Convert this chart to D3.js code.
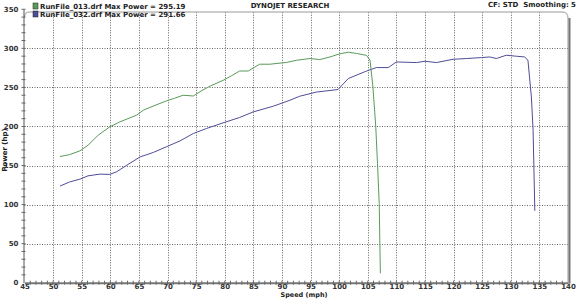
<!DOCTYPE html>
<html><head><meta charset="utf-8">
<script src="https://cdn.jsdelivr.net/npm/d3@7"></script>
<style>body{margin:0;background:#fff}svg{display:block}text{font-family:"DejaVu Sans",Verdana,sans-serif;font-weight:bold}</style>
</head><body><svg id="c" width="580" height="299"></svg>
<script>
// Data
const seriesNames = ["RunFile_013.drf Max Power = 295.19", "RunFile_032.drf Max Power = 291.66"];
const seriesColors = ["#5a9a5a", "#4d4d9a"];
const run013Speed = [51.2,52.9,54.7,56.1,57.9,59.9,61.7,64.6,65.8,67.8,69.8,71.2,72.7,74.5,76.0,77.4,79.7,81.2,82.6,84.1,86.1,87.9,90.8,92.6,94.9,96.6,98.4,100.1,101.6,103.0,104.8,105.4,105.9,106.4,106.7,107.0,107.2];
const run013Power = [161.5,164,168.8,176,189,199.5,206,214.5,221,227,232.7,236,240,239,246,251.5,259,265,271,271,279.7,279.7,282,284.8,287,285.6,289,293,295,293.5,291,284.8,250.6,199.5,152.7,101.5,12];
const run032Speed = [51.2,52.9,54.7,56.1,58.2,59.9,61.1,62.9,65.2,67.5,69.8,72.2,74.5,76.8,79.7,82.6,85.0,88.5,91.4,93.1,96.0,99.8,101.6,104.8,106.5,108.6,110.0,113.5,115.0,117.0,119.9,122.3,124.9,126.3,127.5,129.2,131.0,132.4,133.0,133.6,133.9,134.2];
const run032Power = [123.7,129,132.6,136.8,139,138.6,142,150.5,161,166.7,174,181.6,191,197.4,204.6,211.5,218.7,226,233.6,238.7,244,247.3,261.4,271,275.4,275.4,282.6,281.8,283.5,281.8,286,287,288.2,289,287,291.2,289.9,289,284.8,237.8,195,92];
const xTicks = d3.range(45, 141, 5);
const yTicks = d3.range(0, 351, 50);
const titleText = "DYNOJET RESEARCH";
const infoText = "CF: STD\u00a0\u00a0Smoothing: 5";
const xLabel = "Speed (mph)";
const yLabel = "Power (hp)";

const svg = d3.select("#c");
const L = 24.5, R = 568, T = 9.3, B = 282.7;
const x = d3.scaleLinear().domain([45, 140]).range([L, R]);
const y = d3.scaleLinear().domain([0, 350]).range([B, T]);

// grid
const g = svg.append("g");
g.selectAll(".vg").data(xTicks.filter(d => d > 45 && d < 140)).join("line")
  .attr("x1", d => Math.round(x(d))+0.5).attr("x2", d => Math.round(x(d))+0.5).attr("y1", y(350)+3).attr("y2", B)
  .attr("stroke", "#666").attr("stroke-width", 1).attr("stroke-dasharray", "1,1.5");
g.selectAll(".hg").data(yTicks.filter(d => d > 0 && d < 350)).join("line")
  .attr("x1", L).attr("x2", R).attr("y1", d => Math.round(y(d))+0.5).attr("y2", d => Math.round(y(d))+0.5)
  .attr("stroke", "#666").attr("stroke-width", 1).attr("stroke-dasharray", "1,1.5");

// frame: top and right with rounded corners
const topY = 12;
svg.append("path").attr("d", `M${L},${topY+5} Q${L},${topY} ${L+5},${topY} L${R-6},${topY} Q${R},${topY} ${R},${topY+6} L${R},${B}`)
  .attr("fill", "none").attr("stroke", "#999").attr("stroke-width", 1);
svg.append("line").attr("x1", R+1.5).attr("x2", R+1.5).attr("y1", topY+6).attr("y2", B+1)
  .attr("stroke", "#777").attr("stroke-width", 2);

// axes
const xAxis = d3.axisBottom(x).tickValues(xTicks).tickSize(0).tickPadding(1.5).tickFormat(d3.format("d"));
const xa = svg.append("g").attr("transform", `translate(0,${B})`).call(xAxis);
xa.select(".domain").attr("stroke", "#777").attr("stroke-width", 2);
xa.selectAll("text").attr("dy", "0.75em").attr("font-size", 7).attr("fill", "#333").attr("font-weight", "bold");
const yAxis = d3.axisLeft(y).tickValues(yTicks).tickSize(0).tickFormat(d3.format("d"));
const ya = svg.append("g").attr("transform", `translate(${L-1},0)`).call(yAxis);
ya.select(".domain").attr("stroke", "#555").attr("stroke-width", 1);
ya.selectAll("text").attr("dx", "-0.3em").attr("font-size", 7).attr("fill", "#333").attr("font-weight", "bold");

// minor ticks
svg.append("g").selectAll("line").data(d3.range(46, 140, 1)).join("line")
  .attr("x1", d => x(d)).attr("x2", d => x(d)).attr("y1", B-2).attr("y2", B+2)
  .attr("stroke", "#666").attr("stroke-width", 1);
svg.append("g").selectAll("line").data(d3.range(10, 351, 10)).join("line")
  .attr("x1", L-3).attr("x2", L+1).attr("y1", d => y(d)).attr("y2", d => y(d))
  .attr("stroke", "#666").attr("stroke-width", 1);

// lines
const line = d3.line().x(d => x(d[0])).y(d => y(d[1]));
const s1 = run013Speed.map((s, i) => [s, run013Power[i]]);
const s2 = run032Speed.map((s, i) => [s, run032Power[i]]);
svg.append("path").datum(s2).attr("d", line).attr("fill", "none").attr("stroke", seriesColors[1]).attr("stroke-width", 1);
svg.append("path").datum(s1).attr("d", line).attr("fill", "none").attr("stroke", seriesColors[0]).attr("stroke-width", 1);

// legend
const lg = svg.append("g");
seriesNames.forEach((n, i) => {
  lg.append("rect").attr("x", 33).attr("y", 3 + i*8).attr("width", 5).attr("height", 6)
    .attr("fill", seriesColors[i]).attr("stroke", "#222").attr("stroke-width", 0.5);
  lg.append("text").attr("x", 40).attr("y", 9 + i*8).attr("font-size", 7).attr("fill", "#222").text(n);
});

// titles
svg.append("text").attr("x", 290).attr("y", 8).attr("text-anchor", "middle").attr("font-size", 7).attr("fill", "#222").text(titleText);
svg.append("text").attr("x", 576).attr("y", 7).attr("text-anchor", "end").attr("font-size", 7).attr("fill", "#222").text(infoText);
svg.append("text").attr("x", 304).attr("y", 296.5).attr("text-anchor", "middle").attr("font-size", 6.5).attr("fill", "#222").text(xLabel);
svg.append("text").attr("transform", "translate(7,150) rotate(-90)").attr("text-anchor", "middle").attr("font-size", 7).attr("fill", "#222").text(yLabel);
</script></body></html>
